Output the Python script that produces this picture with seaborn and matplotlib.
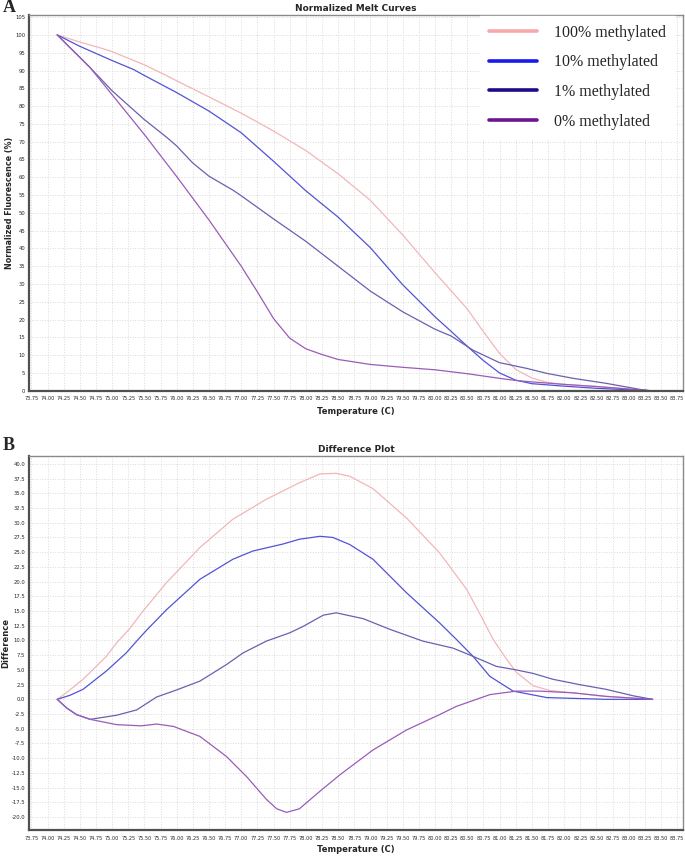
import numpy as np
import pandas as pd
import seaborn as sns
import matplotlib
matplotlib.use('Agg')
import matplotlib.pyplot as plt
from matplotlib.lines import Line2D

samples = ['100% methylated', '10% methylated', '1% methylated', '0% methylated']

# normalized melt curves (temperature, %)
t_100 = [74.15, 74.5, 74.81, 75.0, 75.5, 75.84, 76.0, 76.5, 77.0, 77.5, 78.0, 78.5, 79.0, 79.5, 80.0, 80.25,
         80.5, 80.75, 81.0, 81.25, 81.5, 81.75, 82.0, 82.5, 83.0, 83.35]
v_100 = [100, 98.0, 96.4, 95.3, 91.6, 88.6, 87.1, 82.6, 78.0, 73.0, 67.5, 61.0, 53.5, 43.8, 33.2, 28.1,
         23.0, 16.6, 10.5, 6.0, 3.6, 2.3, 1.8, 1.2, 0.5, 0.0]
t_10 = [74.15, 74.5, 75.0, 75.33, 75.5, 76.0, 76.5, 77.0, 77.5, 78.0, 78.5, 79.0, 79.5, 80.0, 80.25, 80.5,
        80.75, 81.0, 81.25, 81.5, 82.0, 82.5, 83.0, 83.35]
v_10 = [100, 96.8, 92.8, 90.3, 88.6, 83.8, 78.6, 72.5, 64.5, 56.2, 48.8, 40.2, 29.8, 20.8, 16.7, 12.5,
        8.5, 5.0, 3.0, 2.0, 1.3, 0.7, 0.3, 0.0]
t_1 = [74.15, 74.5, 74.66, 75.0, 75.5, 75.84, 76.0, 76.25, 76.5, 76.87, 77.0, 77.5, 78.0, 78.5, 79.0, 79.5,
       80.0, 80.25, 80.59, 81.0, 81.42, 81.73, 82.14, 82.65, 83.17, 83.35]
v_1 = [100, 93.7, 90.8, 84.3, 76.2, 71.3, 68.8, 64.0, 60.3, 56.4, 54.8, 48.3, 42.0, 35.0, 28.0, 22.2,
       17.3, 15.4, 11.4, 7.9, 6.3, 4.9, 3.5, 2.1, 0.4, 0.0]
t_0 = [74.15, 74.5, 74.66, 75.0, 75.5, 76.0, 76.5, 77.0, 77.25, 77.5, 77.75, 78.0, 78.25, 78.5, 79.0, 79.5,
       80.0, 80.5, 81.0, 81.25, 81.5, 82.0, 82.5, 83.0, 83.35]
v_0 = [100, 93.7, 90.8, 83.2, 72.0, 60.2, 48.0, 35.0, 27.8, 20.3, 14.8, 11.8, 10.2, 8.8, 7.4, 6.6,
       5.9, 4.8, 3.5, 2.9, 2.5, 1.8, 1.2, 0.5, 0.0]

# difference plot
dt_100 = [74.15, 74.3, 74.55, 74.91, 75.07, 75.27, 75.48, 75.84, 76.36, 76.87, 77.39, 77.9, 78.22, 78.47,
          78.68, 79.04, 79.56, 80.07, 80.49, 80.74, 80.9, 81.11, 81.26, 81.52, 81.78, 82.14, 82.65, 83.37]
dv_100 = [0, 1.2, 3.4, 7.3, 9.6, 12.0, 15.0, 19.8, 25.8, 30.6, 34.0, 36.8, 38.3, 38.4,
          37.9, 35.8, 30.8, 24.9, 18.7, 13.6, 10.2, 6.8, 4.6, 2.3, 1.5, 1.1, 0.5, 0.0]
dt_10 = [74.15, 74.35, 74.55, 74.91, 75.22, 75.38, 75.53, 75.84, 76.36, 76.87, 77.18, 77.65, 77.9, 78.22,
         78.42, 78.68, 79.04, 79.56, 80.07, 80.33, 80.59, 80.85, 81.21, 81.73, 82.65, 83.37]
dv_10 = [0, 0.7, 1.7, 4.8, 7.9, 9.9, 11.7, 15.2, 20.4, 23.8, 25.2, 26.4, 27.2, 27.7,
         27.5, 26.3, 23.8, 18.1, 13.0, 10.2, 7.3, 3.9, 1.4, 0.3, 0.0, 0.0]
dt_1 = [74.15, 74.3, 74.45, 74.66, 75.07, 75.38, 75.69, 76.0, 76.36, 76.77, 77.03, 77.39, 77.75, 77.96,
        78.27, 78.47, 78.89, 79.3, 79.81, 80.28, 80.59, 80.95, 81.26, 81.52, 81.83, 82.24, 82.65, 83.07,
        83.37]
dv_1 = [0, -1.5, -2.6, -3.4, -2.7, -1.8, 0.4, 1.6, 3.1, 5.9, 7.9, 9.9, 11.3, 12.4,
        14.3, 14.7, 13.7, 11.9, 9.9, 8.7, 7.3, 5.6, 5.0, 4.4, 3.4, 2.5, 1.7, 0.6, 0.0]
dt_0 = [74.15, 74.3, 74.45, 74.66, 75.07, 75.45, 75.69, 75.95, 76.36, 76.77, 77.08, 77.39, 77.55, 77.7,
        77.9, 78.22, 78.53, 79.04, 79.56, 80.07, 80.33, 80.85, 81.26, 81.62, 82.14, 82.65, 83.37]
dv_0 = [0, -1.5, -2.6, -3.4, -4.3, -4.5, -4.2, -4.6, -6.3, -9.7, -13.1, -17.0, -18.6, -19.2,
        -18.6, -15.6, -12.8, -8.6, -5.2, -2.6, -1.2, 0.8, 1.4, 1.4, 1.1, 0.5, 0.0]

line_colors = ['#f2b6b8', '#5252d8', '#6a60b0', '#9a5cb8']
legend_colors = ['#f7a8ad', '#1818f0', '#1e0c86', '#6c1590']


def long_df(ts, vs):
    frames = [pd.DataFrame({'temp': t, 'value': v, 'sample': s}) for t, v, s in zip(ts, vs, samples)]
    return pd.concat(frames, ignore_index=True)


melt = long_df([t_100, t_10, t_1, t_0], [v_100, v_10, v_1, v_0])
diff = long_df([dt_100, dt_10, dt_1, dt_0], [dv_100, dv_10, dv_1, dv_0])

sns.set_style('white')
plt.rcParams['font.family'] = ['DejaVu Sans']

fig = plt.figure(figsize=(6.85, 8.57), dpi=100)
ax1 = fig.add_axes([0.043, 0.544, 0.954, 0.4385])
ax2 = fig.add_axes([0.043, 0.0315, 0.954, 0.4368])

xticks = np.arange(73.75, 83.76, 0.25)


def style_axes(ax, yticks, ylim, fmt):
    ax.set_xlim(73.72, 83.84)
    ax.set_ylim(*ylim)
    ax.set_xticks(xticks)
    ax.set_xticklabels([f'{x:.2f}' for x in xticks], fontsize=3.6)
    ax.set_yticks(yticks)
    ax.set_yticklabels([fmt.format(y) for y in yticks], fontsize=3.8)
    ax.tick_params(axis='x', length=0, pad=4)
    ax.tick_params(axis='y', length=0, pad=3)
    ax.grid(True, color='#dadada', linestyle=':', linewidth=0.7)
    ax.set_axisbelow(True)
    for side in ['left', 'bottom']:
        ax.spines[side].set_color('#505050')
        ax.spines[side].set_linewidth(1.6)
    for side in ['top', 'right']:
        ax.spines[side].set_color('#8a8a8a')
        ax.spines[side].set_linewidth(1.0)


sns.lineplot(data=melt, x='temp', y='value', hue='sample', palette=line_colors,
             sort=False, estimator=None, linewidth=0.9, legend=False, ax=ax1)
style_axes(ax1, np.arange(0, 106, 5), (0, 105.6), '{:.0f}')
ax1.set_title('Normalized Melt Curves', fontsize=6.5, fontweight='bold', pad=3)
ax1.set_xlabel('Temperature (C)', fontsize=6, fontweight='bold', labelpad=4)
ax1.set_ylabel('Normalized Fluorescence (%)', fontsize=5.8, fontweight='bold', labelpad=1)

sns.lineplot(data=diff, x='temp', y='value', hue='sample', palette=line_colors,
             sort=False, estimator=None, linewidth=0.9, legend=False, ax=ax2)
style_axes(ax2, np.arange(-20, 40.1, 2.5), (-22.2, 41.4), '{:.1f}')
ax2.set_title('Difference Plot', fontsize=6.5, fontweight='bold', pad=3)
ax2.set_xlabel('Temperature (C)', fontsize=6, fontweight='bold', labelpad=3)
ax2.set_ylabel('Difference', fontsize=6, fontweight='bold', labelpad=1)

handles = [Line2D([0], [0], color=c, linewidth=2.6) for c in legend_colors]
leg = fig.legend(handles, samples, loc='upper left', bbox_to_anchor=(480 / 685, 1 - 16 / 857),
                 frameon=True, fancybox=False, framealpha=1, facecolor='white', edgecolor='white',
                 prop={'family': 'Liberation Serif', 'size': 11.5}, handlelength=3.0,
                 handletextpad=1.1, labelspacing=0.85, borderpad=0.55, borderaxespad=0)

fig.text(3 / 685, 1 - 8 / 857, 'A', fontsize=13, fontweight='bold', family='Liberation Serif', va='center')
fig.text(3 / 685, 1 - 446 / 857, 'B', fontsize=13, fontweight='bold', family='Liberation Serif', va='center')

fig.savefig('out.png', dpi=100, facecolor='white')
